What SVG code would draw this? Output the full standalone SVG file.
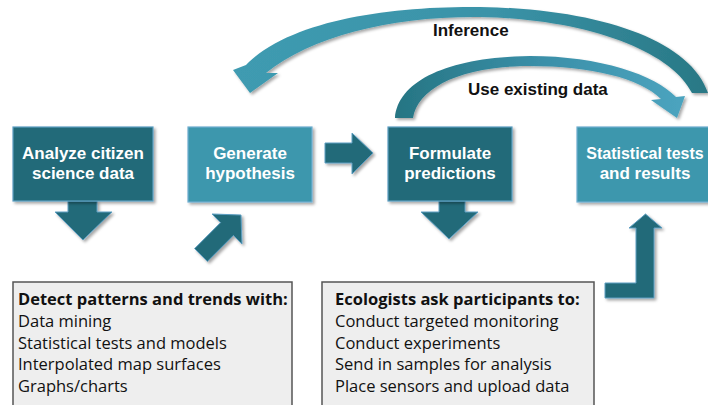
<svg xmlns="http://www.w3.org/2000/svg" width="708" height="405" viewBox="0 0 708 405">
<defs>
<filter id="sh" x="-20%" y="-20%" width="140%" height="140%">
<feDropShadow dx="2" dy="2" stdDeviation="1.5" flood-color="#000" flood-opacity="0.35"/>
</filter>
<linearGradient id="gInf" x1="233" y1="0" x2="708" y2="0" gradientUnits="userSpaceOnUse">
<stop offset="0" stop-color="#3F9BB1"/>
<stop offset="0.55" stop-color="#3A93A8"/>
<stop offset="1" stop-color="#297885"/>
</linearGradient>
<linearGradient id="gUse" x1="395" y1="0" x2="685" y2="0" gradientUnits="userSpaceOnUse">
<stop offset="0" stop-color="#267583"/>
<stop offset="0.5" stop-color="#3A8FA8"/>
<stop offset="1" stop-color="#4CA4BF"/>
</linearGradient>
<style>
.dark{fill:#246B79;stroke:#5C9EC2;stroke-width:1.2}
.light{fill:#3D97AD;stroke:#6FAED0;stroke-width:1.2}
.arr{fill:#246B79;stroke:#5C9EC2;stroke-width:1}
.bt{font-family:"Liberation Sans",Arial,sans-serif;font-weight:bold;font-size:17px;fill:#fff;text-anchor:middle}
.lab{font-family:"Liberation Sans",Arial,sans-serif;font-weight:bold;font-size:17px;fill:#111}
.tb{fill:#EEEEEE;stroke:#555;stroke-width:1.5}
.tx{font-family:"Open Sans","Liberation Sans",sans-serif;font-size:16.5px;fill:#111}
.tx .h{font-weight:bold}
</style>
</defs>
<rect width="708" height="405" fill="#fff"/>

<g id="connectors">
<path id="inference" filter="url(#sh)" fill="url(#gInf)" d="M246 65 C290 20 390 6 480 7 C600 9 690 40 708 93 L692 93 C672 52 590 19 480 17 C392 16 312 36 266 73 L278 73 L250 93 L233 70 Z"/>
<path id="use-existing" filter="url(#sh)" fill="url(#gUse)" d="M395 118 C398 80 450 57 530 56 C600 56 655 75 676 97 L685 96 L677 118 L651 100 L661 99 C640 78 590 66 530 66 C460 66 418 88 413 118 Z"/>
<path id="down1" class="arr" filter="url(#sh)" d="M68 201 L97 201 L97 212 L112 212 L83 240 L55 212 L68 212 Z"/>
<path id="right1" class="arr" filter="url(#sh)" d="M325 143 L352 143 L352 133 L373 153 L352 174 L352 163 L325 163 Z"/>
<path id="down3" class="arr" filter="url(#sh)" d="M439 201 L465 201 L465 212 L478 212 L449 239 L421 212 L439 212 Z"/>
<path id="diag" class="arr" filter="url(#sh)" d="M194.6 248.6 L220.6 222.6 L212 214 L241 215 L242 244 L233.4 235.4 L207.4 261.4 Z"/>
<path id="elbow" class="arr" filter="url(#sh)" d="M605 283 L636 283 L636 228 L629 228 L645.5 214 L662 228 L654 228 L654 298 L605 298 Z"/>
</g>

<text class="lab" x="433" y="36">Inference</text>
<text class="lab" x="468" y="95">Use existing data</text>

<g id="analyze">
<rect class="dark" filter="url(#sh)" x="13" y="127" width="140" height="74"/>
<text class="bt" x="83" y="159">Analyze citizen</text>
<text class="bt" x="83" y="179">science data</text>
</g>
<g id="generate">
<rect class="light" filter="url(#sh)" x="188" y="127" width="124" height="75"/>
<text class="bt" x="250" y="159">Generate</text>
<text class="bt" x="250" y="179">hypothesis</text>
</g>
<g id="formulate">
<rect class="dark" filter="url(#sh)" x="388" y="127" width="124" height="74"/>
<text class="bt" x="450" y="159">Formulate</text>
<text class="bt" x="450" y="179">predictions</text>
</g>
<g id="stats">
<rect class="light" filter="url(#sh)" x="577" y="127" width="140" height="75"/>
<text class="bt" x="645" y="159" style="font-size:16px">Statistical tests</text>
<text class="bt" x="645" y="179">and results</text>
</g>

<g id="detect">
<rect class="tb" x="13" y="282" width="279" height="130"/>
<text class="tx" x="18">
<tspan class="h" x="18" y="305">Detect patterns and trends with:</tspan>
<tspan x="18" y="327">Data mining</tspan>
<tspan x="18" y="348.5">Statistical tests and models</tspan>
<tspan x="18" y="370">Interpolated map surfaces</tspan>
<tspan x="18" y="391.5">Graphs/charts</tspan>
</text>
</g>
<g id="ecologists">
<rect class="tb" x="322" y="282" width="272" height="130"/>
<text class="tx" x="335">
<tspan class="h" x="335" y="305">Ecologists ask participants to:</tspan>
<tspan x="335" y="327">Conduct targeted monitoring</tspan>
<tspan x="335" y="348.5">Conduct experiments</tspan>
<tspan x="335" y="370">Send in samples for analysis</tspan>
<tspan x="335" y="391.5">Place sensors and upload data</tspan>
</text>
</g>
</svg>
